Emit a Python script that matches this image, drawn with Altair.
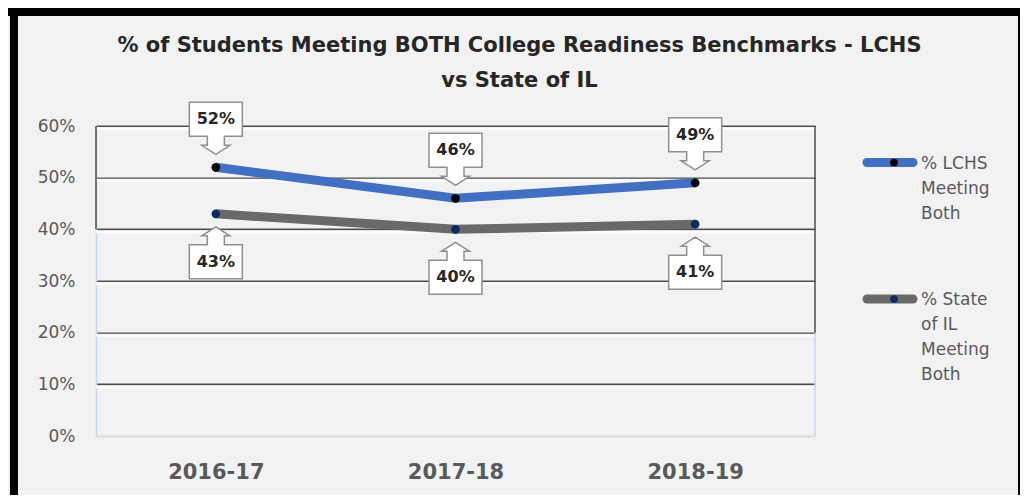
import altair as alt
import pandas as pd

# ---------------- data ----------------
years = ["2016-17", "2017-18", "2018-19"]
lchs_pct = [52, 46, 49]
state_pct = [43, 40, 41]
series_names = ["% LCHS Meeting Both", "% State of IL Meeting Both"]
legend_lines = [["% LCHS", "Meeting", "Both"], ["% State", "of IL", "Meeting", "Both"]]
y_ticks = [0, 10, 20, 30, 40, 50, 60]
title_lines = ["% of Students Meeting BOTH College Readiness Benchmarks - LCHS", "vs State of IL"]

# ---------------- style ----------------
line_colors = ["#4170c3", "#6b6868"]
dot_colors = ["#000000", "#0b2a66"]
FONT = "DejaVu Sans"
W, H = 719, 310
PAD = {"left": 88, "top": 118, "right": 205, "bottom": 59}

df = pd.DataFrame({
    "year": years * 2,
    "value": lchs_pct + state_pct,
    "series": [series_names[0]] * len(years) + [series_names[1]] * len(years),
})
df["label"] = df["value"].astype(str) + "%"
ticks_df = pd.DataFrame({"value": y_ticks})
one = pd.DataFrame({"k": [0]})

y_scale = alt.Scale(domain=[0, 60], nice=False)
x_scale = alt.Scale(type="point", padding=0.5, domain=years)

x_enc = alt.X(
    "year:N", sort=years, scale=x_scale,
    axis=alt.Axis(title=None, labelFont=FONT, labelFontSize=21, labelFontWeight="bold",
                  labelColor="#595959", labelPadding=36, labelBaseline="middle",
                  ticks=False, domain=False, labelAngle=0),
)
y_axis = alt.Axis(title=None, values=y_ticks, labelExpr="datum.value + '%'",
                  labelFont=FONT, labelFontSize=17, labelColor="#595959",
                  labelPadding=21, ticks=False, domainColor="#c6d6ea", domainWidth=1.5,
                  grid=True, gridWidth=2,
                  gridColor={"condition": {"test": "datum.value === 0", "value": "#d9d9d9"},
                             "value": "#4d4d4d"})
y_enc = alt.Y("value:Q", scale=y_scale, axis=y_axis)

# white "shine" under gridlines
shine = alt.Chart(ticks_df).transform_filter("datum.value > 0").mark_rule(
    color="white", strokeWidth=3, yOffset=2.5, opacity=0.9
).encode(y=y_enc)

# plot-area borders
left_dark = alt.Chart(one).mark_rule(color="#4d4d4d", strokeWidth=1.5).encode(
    x=alt.value(0), y=alt.datum(60), y2=alt.datum(40))
right_dark = alt.Chart(one).mark_rule(color="#4d4d4d", strokeWidth=1.5).encode(
    x=alt.value(W), y=alt.datum(60), y2=alt.datum(20))
right_light = alt.Chart(one).mark_rule(color="#c6d6ea", strokeWidth=1.5).encode(
    x=alt.value(W), y=alt.datum(20), y2=alt.datum(0))

lines = alt.Chart(df).mark_line(strokeWidth=9).encode(
    x=x_enc, y=y_enc,
    color=alt.Color("series:N", scale=alt.Scale(domain=series_names, range=line_colors), legend=None),
)
points = alt.Chart(df).mark_circle(size=75, opacity=1).encode(
    x=x_enc, y=y_enc,
    fill=alt.Fill("series:N", scale=alt.Scale(domain=series_names, range=dot_colors), legend=None),
)

# callout shapes (box + arrow), in units of 65 px
R = 65.0
def callout_path(sign):
    pts = [(0, 13), (14, 22), (8.5, 22), (8.5, 31), (26.5, 31), (26.5, 65),
           (-26.5, 65), (-26.5, 31), (-8.5, 31), (-8.5, 22), (-14, 22)]
    return "M" + " L".join(f"{px / R:.4f},{sign * py / R:.4f}" for px, py in pts) + " Z"

above = alt.Chart(df).transform_filter(alt.datum.series == series_names[0])
below = alt.Chart(df).transform_filter(alt.datum.series == series_names[1])

box_style = dict(size=(2 * R) ** 2, filled=True, fill="white", stroke="#8f8f8f",
                 strokeWidth=1.5, opacity=1, strokeJoin="miter")
above_box = above.mark_point(shape=callout_path(-1), **box_style).encode(x=x_enc, y=y_enc)
below_box = below.mark_point(shape=callout_path(1), **box_style).encode(x=x_enc, y=y_enc)
txt_style = dict(font=FONT, fontSize=16, fontWeight="bold", color="#262626", baseline="middle")
above_txt = above.mark_text(dy=-48, **txt_style).encode(x=x_enc, y=y_enc, text="label:N")
below_txt = below.mark_text(dy=48, **txt_style).encode(x=x_enc, y=y_enc, text="label:N")

# manual legend
legend_layers = []
legend_y = [36.5, 173]
for i in range(len(series_names)):
    yy = legend_y[i]
    legend_layers.append(alt.Chart(one).mark_rule(
        strokeWidth=9, strokeCap="round", color=line_colors[i]
    ).encode(x=alt.value(771), x2=alt.value(817), y=alt.value(yy)))
    legend_layers.append(alt.Chart(one).mark_circle(size=60, color=dot_colors[i], opacity=1).encode(
        x=alt.value(798), y=alt.value(yy)))
    legend_layers.append(alt.Chart(one).mark_text(
        text=legend_lines[i], align="left", baseline="alphabetic", lineHeight=25,
        font=FONT, fontSize=17, color="#595959"
    ).encode(x=alt.value(825), y=alt.value(yy + 6)))

# title
title = alt.Chart(one).mark_text(
    text=title_lines, align="center", baseline="alphabetic", lineHeight=35,
    font=FONT, fontSize=21, fontWeight="bold", color="#262626"
).encode(x=alt.value(423.5), y=alt.value(-74))

# black frame (top, left, right edges)
frame = [
    alt.Chart(one).mark_rule(color="black", strokeWidth=8).encode(
        x=alt.value(-82), y=alt.value(-118), y2=alt.value(369)),
    alt.Chart(one).mark_rule(color="black", strokeWidth=8).encode(
        x=alt.value(-88), x2=alt.value(924), y=alt.value(-114)),
    alt.Chart(one).mark_rule(color="black", strokeWidth=2).encode(
        x=alt.value(923), y=alt.value(-118), y2=alt.value(369)),
]

chart = alt.layer(
    shine, left_dark, right_dark, right_light,
    lines, points, above_box, below_box, above_txt, below_txt,
    *legend_layers, title, *frame,
).resolve_scale(color="independent", fill="independent").properties(
    width=W, height=H,
    padding=PAD,
    autosize=alt.AutoSizeParams(type="none"),
).configure(background="#f2f2f2").configure_view(stroke=None)

chart.save("out.html", embed_options={"renderer": "svg", "actions": False})
